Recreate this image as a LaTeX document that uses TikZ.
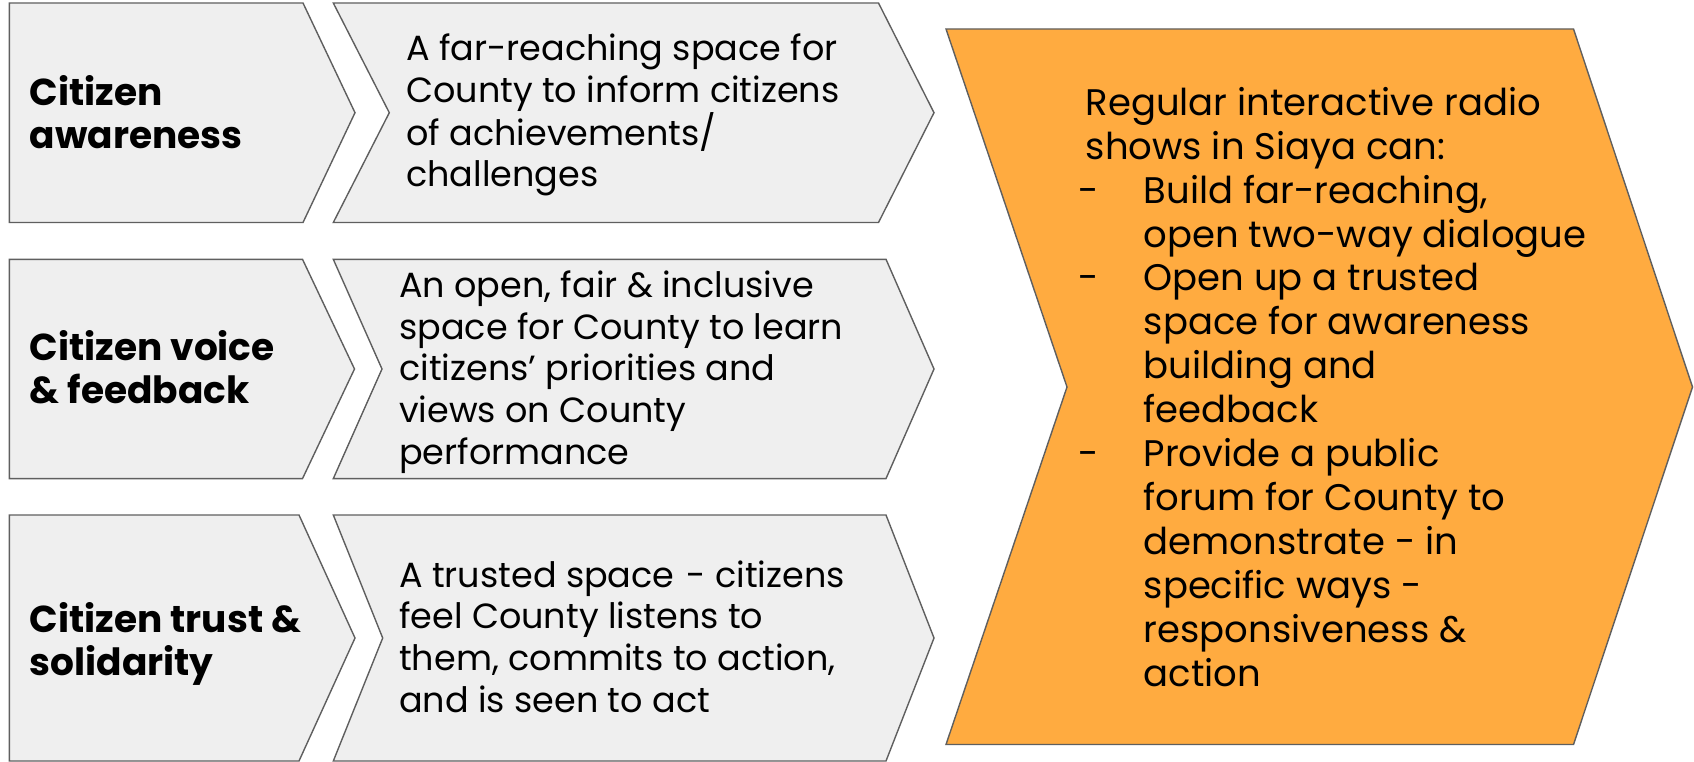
\documentclass[tikz,border=0pt]{standalone}
\usepackage{fontspec}
\setmainfont{Poppins}
\definecolor{boxgray}{HTML}{EFEFEF}
\definecolor{edgegray}{HTML}{5F5F5F}
\definecolor{orangefill}{HTML}{FFAB40}
\newcommand\listdash{\makebox[58pt][l]{\hspace*{-7pt}-}}
\newcommand\listgap{\hspace*{58pt}}
\begin{document}
\begin{tikzpicture}[x=1pt,y=-1pt,
  shapebox/.style={draw=edgegray, line width=1.4pt, line join=miter},
  graybox/.style={shapebox, fill=boxgray},
  orangebox/.style={shapebox, fill=orangefill},
  headtext/.style={anchor=base west, inner sep=0pt, align=left, font=\fontsize{37.5}{43}\selectfont\bfseries},
  bodytext/.style={anchor=base west, inner sep=0pt, align=left, font=\fontsize{35}{41.6}\selectfont},
  sidetext/.style={anchor=base west, inner sep=0pt, align=left, font=\fontsize{37}{43.95}\selectfont}]
\useasboundingbox (0,0) rectangle (1694,762);
% row 1
\draw[graybox] (9.3,3) -- (303,3) -- (355,112.7) -- (303,222.5) -- (9.3,222.5) -- cycle;
\draw[graybox] (333.3,3) -- (878.5,3) -- (934,112.7) -- (878.5,222.5) -- (333.3,222.5) -- (389.3,112.7) -- cycle;
% row 2
\draw[graybox] (9.3,259.3) -- (302.5,259.3) -- (354.5,369) -- (302.5,478.6) -- (9.3,478.6) -- cycle;
\draw[graybox] (333.3,259.3) -- (886,259.3) -- (934,369) -- (886,478.6) -- (333.3,478.6) -- (382,369) -- cycle;
% row 3
\draw[graybox] (9.3,515) -- (299,515) -- (355,638) -- (299,761) -- (9.3,761) -- cycle;
\draw[graybox] (333.3,515) -- (886,515) -- (934,638) -- (886,761) -- (333.3,761) -- (382.7,638) -- cycle;
% orange
\draw[orangebox] (946,29) -- (1573.5,29) -- (1692.5,387) -- (1573.5,744.5) -- (946,744.5) -- (1067,387) -- cycle;

% base anchor of a multi-line node = baseline of its last line
\node[headtext] (h1) at (29.5,149) {Citizen\\awareness};
\node[headtext] (h2) at (29.5,403.5) {Citizen voice\\\& feedback};
\node[headtext] (h3) at (29.5,675) {Citizen trust \&\\solidarity};

\node[bodytext] (b1) at (406,187) {A far-reaching space for\\County to inform citizens\\of achievements/\\challenges};
\node[bodytext] (b2) at (399,464) {An open, fair \& inclusive\\space for County to learn\\citizens’ priorities and\\views on County\\performance};
\node[bodytext] (b3) at (399,712) {A trusted space\hspace{12pt}- citizens\\feel County listens to\\them, commits to action,\\and is seen to act};

\node[sidetext] (s1) at (1085.5,686.5) {Regular interactive radio\\shows in Siaya can:\\
\listdash Build far-reaching,\\\listgap open two-way dialogue\\
\listdash Open up a trusted\\\listgap space for awareness\\\listgap building and\\\listgap feedback\\
\listdash Provide a public\\\listgap forum for County to\\\listgap demonstrate - in\\\listgap specific ways -\\\listgap responsiveness \&\\\listgap action};
\end{tikzpicture}
\end{document}
